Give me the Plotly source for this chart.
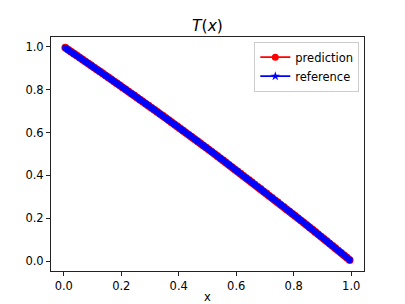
import plotly.graph_objects as go

x_vals = [0.005, 0.015, 0.025, 0.035, 0.045, 0.055, 0.065, 0.075, 0.085, 0.095,
          0.105, 0.115, 0.125, 0.135, 0.145, 0.155, 0.165, 0.175, 0.185, 0.195,
          0.205, 0.215, 0.225, 0.235, 0.245, 0.255, 0.265, 0.275, 0.285, 0.295,
          0.305, 0.315, 0.325, 0.335, 0.345, 0.355, 0.365, 0.375, 0.385, 0.395,
          0.405, 0.415, 0.425, 0.435, 0.445, 0.455, 0.465, 0.475, 0.485, 0.495,
          0.505, 0.515, 0.525, 0.535, 0.545, 0.555, 0.565, 0.575, 0.585, 0.595,
          0.605, 0.615, 0.625, 0.635, 0.645, 0.655, 0.665, 0.675, 0.685, 0.695,
          0.705, 0.715, 0.725, 0.735, 0.745, 0.755, 0.765, 0.775, 0.785, 0.795,
          0.805, 0.815, 0.825, 0.835, 0.845, 0.855, 0.865, 0.875, 0.885, 0.895,
          0.905, 0.915, 0.925, 0.935, 0.945, 0.955, 0.965, 0.975, 0.985, 0.995]

t_reference = [0.996, 0.986, 0.977, 0.968, 0.959, 0.950, 0.941, 0.932, 0.923, 0.914,
               0.904, 0.895, 0.886, 0.877, 0.867, 0.858, 0.849, 0.839, 0.830, 0.821,
               0.811, 0.802, 0.792, 0.783, 0.774, 0.764, 0.754, 0.745, 0.735, 0.726,
               0.716, 0.707, 0.697, 0.687, 0.678, 0.668, 0.658, 0.648, 0.639, 0.629,
               0.619, 0.609, 0.599, 0.590, 0.580, 0.570, 0.560, 0.550, 0.540, 0.530,
               0.520, 0.510, 0.500, 0.490, 0.480, 0.470, 0.460, 0.449, 0.439, 0.429,
               0.419, 0.409, 0.398, 0.388, 0.378, 0.368, 0.357, 0.347, 0.337, 0.326,
               0.316, 0.305, 0.295, 0.284, 0.274, 0.263, 0.253, 0.242, 0.232, 0.221,
               0.211, 0.200, 0.189, 0.179, 0.168, 0.157, 0.147, 0.136, 0.125, 0.114,
               0.104, 0.093, 0.082, 0.071, 0.060, 0.049, 0.038, 0.027, 0.016, 0.005]

t_prediction = [0.997, 0.987, 0.978, 0.969, 0.960, 0.951, 0.941, 0.932, 0.923, 0.914,
                0.904, 0.895, 0.886, 0.877, 0.867, 0.858, 0.849, 0.839, 0.830, 0.821,
                0.811, 0.802, 0.792, 0.783, 0.774, 0.764, 0.754, 0.745, 0.735, 0.726,
                0.716, 0.707, 0.697, 0.687, 0.678, 0.668, 0.658, 0.648, 0.639, 0.629,
                0.619, 0.609, 0.599, 0.590, 0.580, 0.570, 0.560, 0.550, 0.540, 0.530,
                0.520, 0.510, 0.500, 0.490, 0.480, 0.470, 0.460, 0.449, 0.439, 0.429,
                0.419, 0.409, 0.398, 0.388, 0.378, 0.368, 0.357, 0.347, 0.337, 0.326,
                0.316, 0.305, 0.295, 0.284, 0.274, 0.263, 0.253, 0.242, 0.232, 0.221,
                0.211, 0.200, 0.189, 0.179, 0.168, 0.157, 0.147, 0.136, 0.125, 0.114,
                0.104, 0.093, 0.082, 0.071, 0.060, 0.049, 0.038, 0.027, 0.016, 0.004]

tick_vals = [0.0, 0.2, 0.4, 0.6, 0.8, 1.0]
tick_text = ["0.0", "0.2", "0.4", "0.6", "0.8", "1.0"]

FONT = "DejaVu Sans"

fig = go.Figure()
# overlapping markers form a solid band
fig.add_trace(go.Scatter(
    x=x_vals, y=t_prediction, name="prediction", mode="lines+markers", showlegend=False,
    line=dict(color="red", width=7.6),
    marker=dict(symbol="circle", size=7.6, color="red"),
))
fig.add_trace(go.Scatter(
    x=x_vals, y=t_reference, name="reference", mode="lines+markers", showlegend=False,
    line=dict(color="blue", width=6.2),
    marker=dict(symbol="circle", size=6.2, color="blue"),
))
# legend entries (no data drawn)
fig.add_trace(go.Scatter(
    x=[None], y=[None], name="prediction", mode="lines+markers",
    line=dict(color="red", width=1.7),
    marker=dict(symbol="circle", size=7, color="red"),
))
fig.add_trace(go.Scatter(
    x=[None], y=[None], name="reference", mode="lines+markers",
    line=dict(color="blue", width=1.7),
    marker=dict(symbol="star", size=7, color="blue"),
))

axis_common = dict(
    showgrid=False, zeroline=False, showline=True, linecolor="#222222", linewidth=1,
    mirror=True, ticks="outside", ticklen=4, tickwidth=1, tickcolor="#222222",
    tickvals=tick_vals, ticktext=tick_text, automargin=False,
    tickfont=dict(family=FONT, size=11.5, color="black"),
)

fig.update_layout(
    width=405, height=304,
    margin=dict(l=51, r=41, t=37, b=33),
    paper_bgcolor="white", plot_bgcolor="white",
    font=dict(family=FONT, color="black"),
    title=dict(text="<i>T</i>(<i>x</i>)", x=0.5, xref="paper", xanchor="center",
               yref="container", y=1 - 26 / 304, yanchor="middle",
               font=dict(family=FONT, size=15.5, color="black")),
    xaxis=dict(range=[-0.0445, 1.0445], title=dict(text="x", font=dict(family=FONT, size=11.5)),
               **axis_common),
    yaxis=dict(range=[-0.0467, 1.0467], **axis_common),
    legend=dict(x=0.985, y=0.98, xanchor="right", yanchor="top",
                bgcolor="rgba(255,255,255,0.8)", bordercolor="#cccccc", borderwidth=1,
                font=dict(family=FONT, size=11.5, color="black"), itemwidth=30,
                tracegroupgap=0),
    showlegend=True,
)

fig.write_html("out.html", config={"displayModeBar": False},
               post_script="document.body.style.margin='0';document.body.style.overflow='hidden';")
